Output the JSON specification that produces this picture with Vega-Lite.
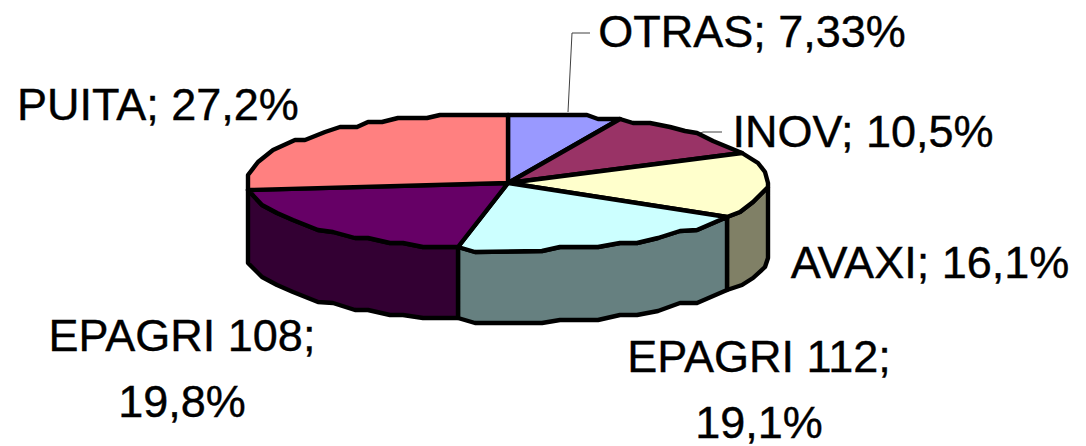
{"$schema":"https://vega.github.io/schema/vega-lite/v6.json","width":1086,"height":446,"padding":0,"autosize":"none","background":"white","view":{"stroke":null},
"datasets":{
"outline":[
{"p":"AVAXI side","i":0,"x":768,"y":187},{"p":"AVAXI side","i":1,"x":753,"y":202},{"p":"AVAXI side","i":2,"x":740,"y":212},{"p":"AVAXI side","i":3,"x":727,"y":217},{"p":"AVAXI side","i":4,"x":727,"y":290},{"p":"AVAXI side","i":5,"x":742,"y":285},{"p":"AVAXI side","i":6,"x":753,"y":278},{"p":"AVAXI side","i":7,"x":765,"y":267},{"p":"AVAXI side","i":8,"x":768,"y":258},{"p":"AVAXI side","i":9,"x":768,"y":187},
{"p":"EPAGRI 112 side","i":0,"x":727,"y":217},{"p":"EPAGRI 112 side","i":1,"x":697,"y":230},{"p":"EPAGRI 112 side","i":2,"x":680,"y":231},{"p":"EPAGRI 112 side","i":3,"x":658,"y":238},{"p":"EPAGRI 112 side","i":4,"x":637,"y":243},{"p":"EPAGRI 112 side","i":5,"x":620,"y":243},{"p":"EPAGRI 112 side","i":6,"x":598,"y":247},{"p":"EPAGRI 112 side","i":7,"x":560,"y":247},{"p":"EPAGRI 112 side","i":8,"x":542,"y":251},{"p":"EPAGRI 112 side","i":9,"x":475,"y":252},{"p":"EPAGRI 112 side","i":10,"x":458,"y":247},{"p":"EPAGRI 112 side","i":11,"x":458,"y":318},{"p":"EPAGRI 112 side","i":12,"x":475,"y":323},{"p":"EPAGRI 112 side","i":13,"x":542,"y":323},{"p":"EPAGRI 112 side","i":14,"x":560,"y":320},{"p":"EPAGRI 112 side","i":15,"x":598,"y":320},{"p":"EPAGRI 112 side","i":16,"x":620,"y":315},{"p":"EPAGRI 112 side","i":17,"x":637,"y":315},{"p":"EPAGRI 112 side","i":18,"x":658,"y":311},{"p":"EPAGRI 112 side","i":19,"x":680,"y":303},{"p":"EPAGRI 112 side","i":20,"x":697,"y":303},{"p":"EPAGRI 112 side","i":21,"x":727,"y":290},{"p":"EPAGRI 112 side","i":22,"x":727,"y":217},
{"p":"EPAGRI 108 side","i":0,"x":458,"y":247},{"p":"EPAGRI 108 side","i":1,"x":423,"y":247},{"p":"EPAGRI 108 side","i":2,"x":403,"y":243},{"p":"EPAGRI 108 side","i":3,"x":390,"y":243},{"p":"EPAGRI 108 side","i":4,"x":368,"y":238},{"p":"EPAGRI 108 side","i":5,"x":355,"y":238},{"p":"EPAGRI 108 side","i":6,"x":333,"y":232},{"p":"EPAGRI 108 side","i":7,"x":318,"y":230},{"p":"EPAGRI 108 side","i":8,"x":293,"y":220},{"p":"EPAGRI 108 side","i":9,"x":277,"y":213},{"p":"EPAGRI 108 side","i":10,"x":262,"y":205},{"p":"EPAGRI 108 side","i":11,"x":248,"y":190},{"p":"EPAGRI 108 side","i":12,"x":248,"y":263},{"p":"EPAGRI 108 side","i":13,"x":262,"y":277},{"p":"EPAGRI 108 side","i":14,"x":277,"y":285},{"p":"EPAGRI 108 side","i":15,"x":293,"y":292},{"p":"EPAGRI 108 side","i":16,"x":318,"y":302},{"p":"EPAGRI 108 side","i":17,"x":333,"y":303},{"p":"EPAGRI 108 side","i":18,"x":355,"y":310},{"p":"EPAGRI 108 side","i":19,"x":368,"y":310},{"p":"EPAGRI 108 side","i":20,"x":390,"y":315},{"p":"EPAGRI 108 side","i":21,"x":403,"y":315},{"p":"EPAGRI 108 side","i":22,"x":423,"y":318},{"p":"EPAGRI 108 side","i":23,"x":458,"y":318},{"p":"EPAGRI 108 side","i":24,"x":458,"y":247},
{"p":"OTRAS","i":0,"x":508,"y":183},{"p":"OTRAS","i":1,"x":508,"y":115},{"p":"OTRAS","i":2,"x":587,"y":115},{"p":"OTRAS","i":3,"x":598,"y":119},{"p":"OTRAS","i":4,"x":620,"y":119},{"p":"OTRAS","i":5,"x":508,"y":183},
{"p":"INOV","i":0,"x":508,"y":183},{"p":"INOV","i":1,"x":620,"y":119},{"p":"INOV","i":2,"x":633,"y":123},{"p":"INOV","i":3,"x":650,"y":123},{"p":"INOV","i":4,"x":670,"y":127},{"p":"INOV","i":5,"x":685,"y":131},{"p":"INOV","i":6,"x":697,"y":133},{"p":"INOV","i":7,"x":713,"y":141},{"p":"INOV","i":8,"x":742,"y":153},{"p":"INOV","i":9,"x":508,"y":183},
{"p":"AVAXI","i":0,"x":508,"y":183},{"p":"AVAXI","i":1,"x":742,"y":153},{"p":"AVAXI","i":2,"x":758,"y":163},{"p":"AVAXI","i":3,"x":765,"y":172},{"p":"AVAXI","i":4,"x":768,"y":183},{"p":"AVAXI","i":5,"x":768,"y":187},{"p":"AVAXI","i":6,"x":753,"y":202},{"p":"AVAXI","i":7,"x":740,"y":212},{"p":"AVAXI","i":8,"x":727,"y":217},{"p":"AVAXI","i":9,"x":508,"y":183},
{"p":"EPAGRI 112","i":0,"x":508,"y":183},{"p":"EPAGRI 112","i":1,"x":727,"y":217},{"p":"EPAGRI 112","i":2,"x":697,"y":230},{"p":"EPAGRI 112","i":3,"x":680,"y":231},{"p":"EPAGRI 112","i":4,"x":658,"y":238},{"p":"EPAGRI 112","i":5,"x":637,"y":243},{"p":"EPAGRI 112","i":6,"x":620,"y":243},{"p":"EPAGRI 112","i":7,"x":598,"y":247},{"p":"EPAGRI 112","i":8,"x":560,"y":247},{"p":"EPAGRI 112","i":9,"x":542,"y":251},{"p":"EPAGRI 112","i":10,"x":475,"y":252},{"p":"EPAGRI 112","i":11,"x":458,"y":247},{"p":"EPAGRI 112","i":12,"x":508,"y":183},
{"p":"EPAGRI 108","i":0,"x":508,"y":183},{"p":"EPAGRI 108","i":1,"x":458,"y":247},{"p":"EPAGRI 108","i":2,"x":423,"y":247},{"p":"EPAGRI 108","i":3,"x":403,"y":243},{"p":"EPAGRI 108","i":4,"x":390,"y":243},{"p":"EPAGRI 108","i":5,"x":368,"y":238},{"p":"EPAGRI 108","i":6,"x":355,"y":238},{"p":"EPAGRI 108","i":7,"x":333,"y":232},{"p":"EPAGRI 108","i":8,"x":318,"y":230},{"p":"EPAGRI 108","i":9,"x":293,"y":220},{"p":"EPAGRI 108","i":10,"x":277,"y":213},{"p":"EPAGRI 108","i":11,"x":262,"y":205},{"p":"EPAGRI 108","i":12,"x":248,"y":190},{"p":"EPAGRI 108","i":13,"x":508,"y":183},
{"p":"PUITA","i":0,"x":508,"y":183},{"p":"PUITA","i":1,"x":248,"y":190},{"p":"PUITA","i":2,"x":248,"y":175},{"p":"PUITA","i":3,"x":258,"y":162},{"p":"PUITA","i":4,"x":273,"y":150},{"p":"PUITA","i":5,"x":295,"y":140},{"p":"PUITA","i":6,"x":305,"y":140},{"p":"PUITA","i":7,"x":325,"y":132},{"p":"PUITA","i":8,"x":340,"y":127},{"p":"PUITA","i":9,"x":357,"y":127},{"p":"PUITA","i":10,"x":368,"y":122},{"p":"PUITA","i":11,"x":382,"y":122},{"p":"PUITA","i":12,"x":398,"y":118},{"p":"PUITA","i":13,"x":427,"y":118},{"p":"PUITA","i":14,"x":440,"y":115},{"p":"PUITA","i":15,"x":508,"y":115},{"p":"PUITA","i":16,"x":508,"y":183}
],
"leaders":[
{"p":"OTRAS","i":0,"x":568,"y":112},{"p":"OTRAS","i":1,"x":572,"y":33},{"p":"OTRAS","i":2,"x":590,"y":33},
{"p":"INOV","i":0,"x":693,"y":136},{"p":"INOV","i":1,"x":703,"y":132},{"p":"INOV","i":2,"x":722,"y":132}
],
"labels":[
{"label":"OTRAS; 7,33%","x":752,"y":47},
{"label":"INOV; 10,5%","x":863,"y":147},
{"label":"PUITA; 27,2%","x":158,"y":120},
{"label":"AVAXI; 16,1%","x":930,"y":278},
{"label":"EPAGRI 108;\n19,8%","x":182,"y":351},
{"label":"EPAGRI 112;\n19,1%","x":759,"y":372}
]},
"encoding":{
"x":{"field":"x","type":"quantitative","scale":{"domain":[0,1086],"nice":false,"zero":false},"axis":null},
"y":{"field":"y","type":"quantitative","scale":{"domain":[0,446],"reverse":true,"nice":false,"zero":false},"axis":null}
},
"layer":[
{"data":{"name":"leaders"},"mark":{"type":"line","stroke":"#404040","strokeWidth":1,"clip":false},"encoding":{"detail":{"field":"p"},"order":{"field":"i"}}},
{"data":{"name":"outline"},"mark":{"type":"line","stroke":"black","strokeWidth":4.4,"strokeJoin":"round"},
"encoding":{"detail":{"field":"p"},"order":{"field":"i"},
"fill":{"field":"p","type":"nominal","legend":null,"scale":{"domain":["OTRAS","INOV","AVAXI","EPAGRI 112","EPAGRI 108","PUITA","AVAXI side","EPAGRI 112 side","EPAGRI 108 side"],"range":["#9999FF","#993366","#FFFFCC","#CCFFFF","#660066","#FF8080","#808066","#668080","#330033"]}}}},
{"data":{"name":"labels"},"mark":{"type":"text","font":"Liberation Sans","fontSize":45,"align":"center","baseline":"alphabetic","color":"black","stroke":"black","strokeWidth":0.4,"lineBreak":"\n","lineHeight":66},
"encoding":{"text":{"field":"label","type":"nominal"}}}
]}
